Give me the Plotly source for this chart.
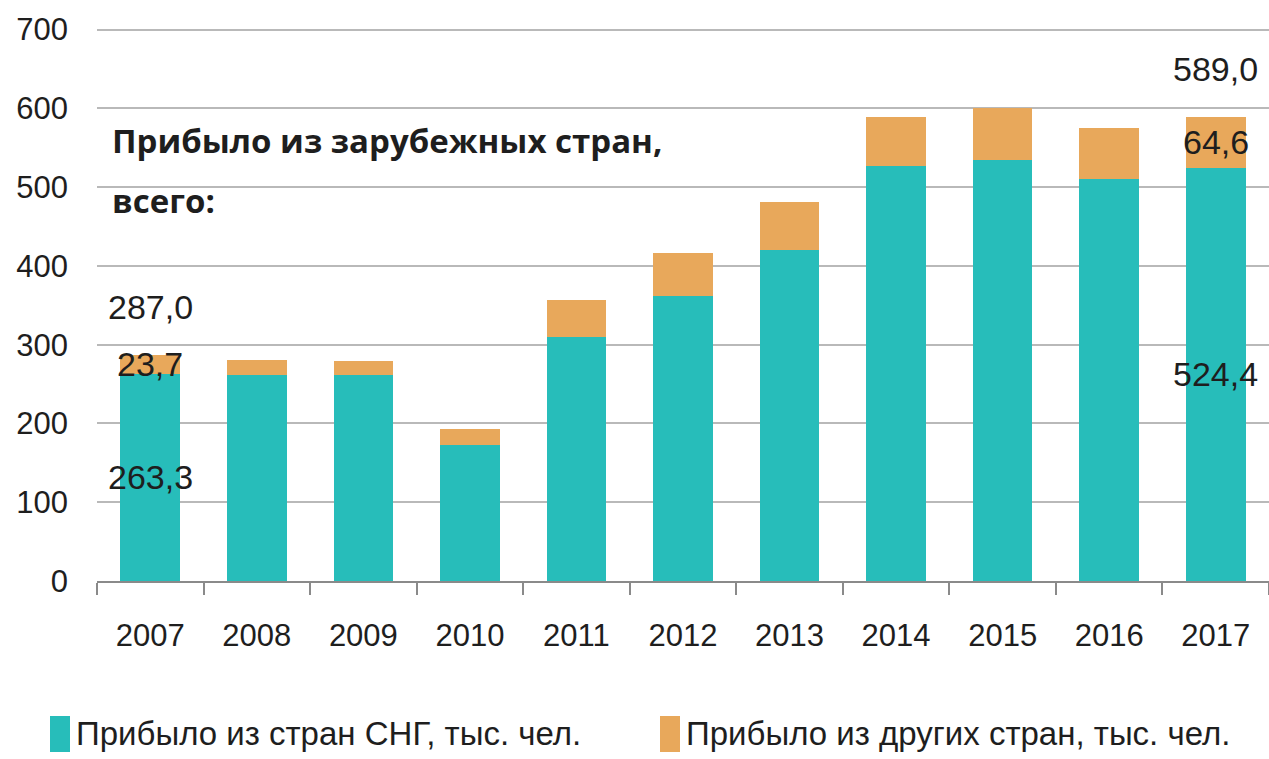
import plotly.graph_objects as go

# Data: arrivals (thousand persons)
years = ["2007", "2008", "2009", "2010", "2011", "2012", "2013", "2014", "2015", "2016", "2017"]
cis_values = [263.3, 261, 261, 173, 310, 362, 420, 527, 534, 510, 524.4]
other_values = [23.7, 20, 18, 20, 47, 55, 61, 62, 66, 65, 64.6]
series_names = ["Прибыло из стран СНГ, тыс. чел.", "Прибыло из других стран, тыс. чел."]
title_lines = ["Прибыло из зарубежных стран,", "всего:"]
labelled_years = ["2007", "2017"]

TEAL = "#27bdba"
ORANGE = "#e8a85b"
TEXT = "#1e1e1e"
NUM_FONT = "Liberation Sans, Arial, sans-serif"

W, H = 1269, 759
L, R, T, B = 97, 0, 28, 178
plot_w = W - L - R
plot_h = H - T - B


def px_x(px):
    return (px - L) / plot_w


def px_y(py):
    return (H - B - py) / plot_h


def fmt(v):
    return f"{v:.1f}".replace(".", ",")


fig = go.Figure()
fig.add_trace(go.Bar(x=years, y=cis_values, name=series_names[0],
                     marker=dict(color=TEAL, line=dict(width=0))))
fig.add_trace(go.Bar(x=years, y=other_values, name=series_names[1],
                     marker=dict(color=ORANGE, line=dict(width=0))))

annotations = []
label_font = dict(family=NUM_FONT, size=34, color=TEXT)
for yr in labelled_years:
    i = years.index(yr)
    c, o = cis_values[i], other_values[i]
    total = c + o
    # numeric x = category index on the category axis
    annotations.append(dict(x=i, y=c / 2, text=fmt(c), showarrow=False,
                            font=label_font, xanchor="center", yanchor="middle"))
    annotations.append(dict(x=i, y=c + o / 2, text=fmt(o), showarrow=False,
                            font=label_font, xanchor="center", yanchor="middle"))
    annotations.append(dict(x=i, y=total, text=fmt(total), showarrow=False,
                            font=label_font, xanchor="center", yanchor="middle",
                            yshift=48))

# Heading inside the plot
for line, py in zip(title_lines, [140, 200]):
    annotations.append(dict(xref="paper", yref="paper", x=px_x(110), y=px_y(py),
                            text=f"<b>{line}</b>", showarrow=False,
                            xanchor="left", yanchor="middle",
                            font=dict(family="Open Sans, DejaVu Sans, sans-serif",
                                      size=33, color=TEXT)))

# Legend drawn below the axis
shapes = []
legend_items = [(series_names[0], TEAL, 50), (series_names[1], ORANGE, 660)]
for name, color, x0 in legend_items:
    shapes.append(dict(type="rect", xref="paper", yref="paper",
                       x0=px_x(x0), x1=px_x(x0 + 20), y0=px_y(752), y1=px_y(716),
                       fillcolor=color, line=dict(width=0)))
    annotations.append(dict(xref="paper", yref="paper", x=px_x(x0 + 24), y=px_y(733),
                            text=name, showarrow=False, xanchor="left", yanchor="middle",
                            font=dict(family=NUM_FONT, size=33, color=TEXT)))

fig.update_layout(
    width=W, height=H, autosize=False,
    margin=dict(l=L, r=R, t=T, b=B, pad=0),
    barmode="stack", bargap=0.44,
    plot_bgcolor="white", paper_bgcolor="white",
    showlegend=False,
    annotations=annotations, shapes=shapes,
    font=dict(family=NUM_FONT, color=TEXT),
)
# Range reaches slightly past 700 so the top gridline stays visible
fig.update_yaxes(range=[0, 702], tickvals=[0, 100, 200, 300, 400, 500, 600, 700],
                 showgrid=True, gridcolor="#b9b9b9",
                 gridwidth=2, zeroline=False, showline=False,
                 tickfont=dict(family=NUM_FONT, size=31, color=TEXT),
                 ticklabelstandoff=28)
fig.update_xaxes(type="category", range=[-0.5, len(years) - 0.5],
                 showline=True, linecolor="#8a8a8a", linewidth=2,
                 ticks="outside", tickson="boundaries", ticklen=12, tickwidth=2,
                 tickcolor="#8a8a8a", showgrid=False, tickangle=0,
                 tickfont=dict(family=NUM_FONT, size=31, color=TEXT),
                 ticklabelstandoff=26)

fig.write_html("out.html")
